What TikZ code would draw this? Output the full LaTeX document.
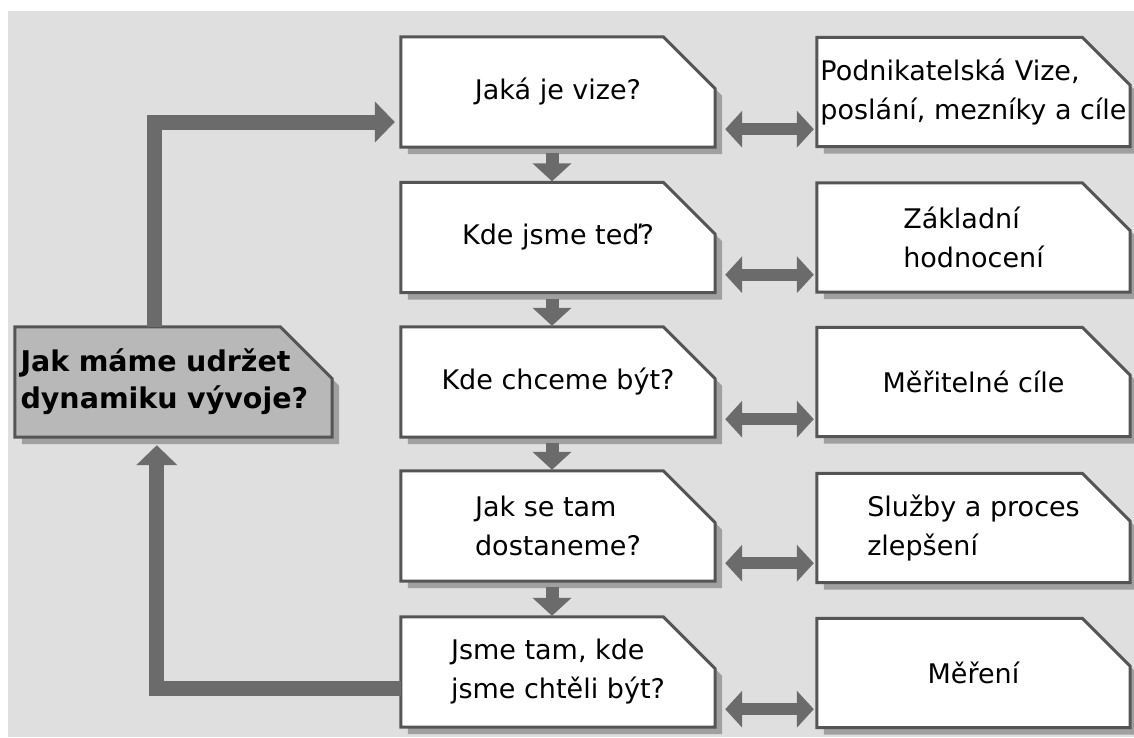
\documentclass[tikz,border=0pt]{standalone}
\usepackage{fontspec}
\setmainfont{DejaVu Sans}
\usetikzlibrary{arrows.meta,calc}
\pgfdeclarelayer{back}
\pgfdeclarelayer{boxes}
\pgfsetlayers{back,boxes,main}
\definecolor{bgc}{HTML}{DFDFDF}
\definecolor{arr}{HTML}{6B6B6B}
\definecolor{edge}{HTML}{555555}
\definecolor{shad}{HTML}{A0A0A0}
\definecolor{lbfill}{HTML}{B8B8B8}
\tikzset{
  box/.style={rectangle, inner sep=0pt, minimum width=314pt, minimum height=110pt,
    font=\fontsize{27}{39}\selectfont, text=black},
  rbox/.style={box, minimum width=313pt, minimum height=109pt},
  leftbox/.style={box, minimum width=317pt, text width=306pt, align=left,
    font=\fontsize{28.5}{37}\selectfont\bfseries},
  flow/.style={draw=arr, line width=15pt, -{Triangle[length=20pt,width=40pt]}},
  down/.style={draw=arr, line width=13pt, -{Triangle[length=18pt,width=38pt]},
    shorten <=6pt, shorten >=1pt},
  both/.style={draw=arr, line width=12pt,
    {Triangle[length=17pt,width=36pt]}-{Triangle[length=17pt,width=36pt]},
    shorten <=10pt, shorten >=3pt},
}
\newcommand\chamferbox[3]{%
  \fill[shad] ($(#1.south west)+(7,7)$) -- ($(#1.north west)+(7,7)$)
    -- ($(#1.north east)+(7-#3,7)$) -- ($(#1.north east)+(7,7+#3)$)
    -- ($(#1.south east)+(7,7)$) -- cycle;
  \filldraw[fill=#2, draw=edge, line width=3pt, line join=miter]
    (#1.south west) -- (#1.north west) -- ($(#1.north east)+(-#3,0)$)
    -- ($(#1.north east)+(0,#3)$) -- (#1.south east) -- cycle;
}
\begin{document}
\begin{tikzpicture}[x=1pt, y=-1pt]
\useasboundingbox (0,0) rectangle (1134,737);
\begin{pgfonlayer}{back}
  \fill[white] (0,0) rectangle (1134,737);
  \fill[bgc] (8,11) rectangle (1134,737);
\end{pgfonlayer}

% middle column
\node[box] (m1) at (558,92) {Jaká je vize?};
\node[box] (m2) at (558,237.5) {Kde jsme teď?};
\node[box] (m3) at (558,382) {Kde chceme být?};
\node[box, align=left] (m4) at (558,526) {Jak se tam\\dostaneme?};
\node[box, align=left] (m5) at (558,672) {Jsme tam, kde\\jsme chtěli být?};

% right column
\node[rbox, align=left] (r1) at (973.5,92) {Podnikatelská Vize,\\poslání, mezníky a cíle};
\node[rbox, align=left] (r2) at (973.5,237.5) {Základní\\hodnocení};
\node[rbox] (r3) at (973.5,382) {Měřitelné cíle};
\node[rbox, align=left] (r4) at (973.5,528) {Služby a proces\\zlepšení};
\node[rbox] (r5) at (973.5,673) {Měření};

% left box
\node[leftbox] (lb) at (173.5,382) {Jak máme udržet\\dynamiku vývoje?};

\begin{pgfonlayer}{boxes}
  \foreach \n in {m1,m2,m3,m4,m5} {\chamferbox{\n}{white}{52}}
  \foreach \n in {r1,r2,r3,r4,r5} {\chamferbox{\n}{white}{48}}
  \chamferbox{lb}{lbfill}{52}
\end{pgfonlayer}

% feedback loop
\draw[flow, shorten >=6pt] ($(lb.north west)+(140,0)$) |- ($(m1.west)+(0,30)$);
\draw[flow, shorten >=8pt] ($(m5.west)+(0,16)$) -| ($(lb.south west)+(142,0)$);

% down arrows
\foreach \i/\j in {1/2,2/3,3/4,4/5}
  \draw[down] ($(m\i.south)+(-6,0)$) -- ($(m\j.north)+(-6,0)$);

% double arrows
\foreach \i in {1,...,5} {
  \coordinate (d\i) at ($(m\i.south east)+(0,-18)$);
  \draw[both] (d\i) -- (d\i -| r\i.west);
}
\end{tikzpicture}
\end{document}
